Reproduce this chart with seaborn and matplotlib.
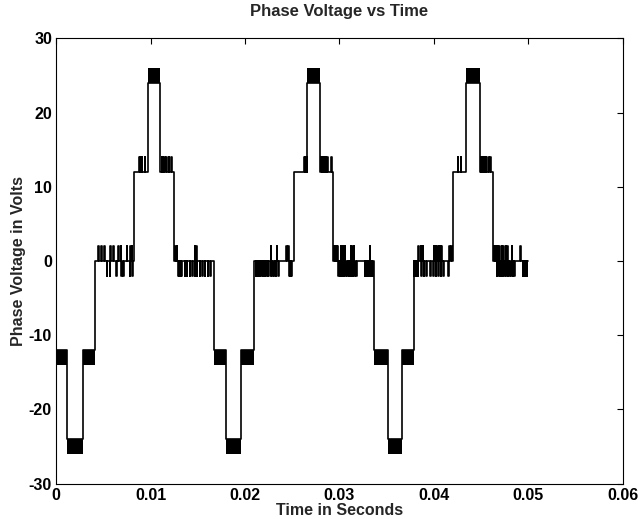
import numpy as np
import pandas as pd
import seaborn as sns
import matplotlib
matplotlib.use("Agg")
import matplotlib.pyplot as plt

# staircase levels of the phase voltage, times in ms
seg_t0 = [0.0, 1.2, 2.8, 4.1, 8.25, 9.75, 11.05, 12.52,
          16.7, 18.0, 19.6, 20.95, 25.15, 26.6, 27.95, 29.36,
          33.7, 35.1, 36.6, 37.85, 42.0, 43.45, 44.9, 46.3]
t_end = 50.0
seg_level = [-12, -24, -12, 0, 12, 24, 12, 0,
             -12, -24, -12, 0, 12, 24, 12, 0,
             -12, -24, -12, 0, 12, 24, 12, 0]
# dense PWM switching that shows up as a solid band (None = no band)
seg_band = [-14, -26, -14, None, None, 26, None, None,
            -14, -26, -14, None, None, 26, None, None,
            -14, -26, -14, None, None, 26, None, None]

# single switching pulses, +2 V above / -2 V below the level they sit on
pulse_up_ms = [4.5, 4.8, 5.1, 5.4, 5.75, 6.05, 6.6, 6.85, 7.15, 7.5, 7.85, 8.05,
               8.8, 8.95, 9.1, 9.4,
               11.2, 11.33, 11.5, 11.7, 11.95, 12.2,
               12.65, 12.8, 14.7, 14.87, 16.1,
               22.1, 22.3, 22.45, 22.75, 23.4, 24.4, 24.6,
               26.3, 26.4, 26.5,
               28.1, 28.2, 28.3, 28.45, 28.6, 28.75, 29.17,
               29.5, 29.6, 29.7, 29.8, 30.16, 30.4, 30.58, 31.19, 31.4, 31.54, 33.23,
               38.35, 38.65, 38.75, 38.85, 39.95, 40.1, 40.25, 40.4, 40.55, 40.7, 40.8,
               41.63, 41.89,
               42.58, 42.87,
               45.0, 45.1, 45.2, 45.3, 45.4, 45.52, 45.76, 46.02,
               46.45, 46.55, 46.65, 46.75, 46.85, 46.95, 47.18, 47.35, 47.64, 47.78,
               48.24, 49.2, 49.65]
pulse_dn_ms = [5.4, 5.7, 6.4, 6.9, 7.15, 7.8, 8.1,
               12.95, 13.05, 13.15, 13.25, 13.63, 13.88, 14.16, 14.45, 14.69, 14.94,
               15.22, 15.51, 15.75, 16.1, 16.36,
               21.15, 21.3, 21.45, 21.6, 21.75, 21.9, 22.1, 22.3, 22.45, 22.7, 22.9,
               23.1, 23.3, 23.55, 24.7, 24.8, 24.9, 25.0,
               29.9, 30.05, 30.2, 30.35, 30.5, 30.65, 30.85, 31.0, 31.15, 31.3, 31.45,
               31.6, 31.8, 32.7, 32.8, 32.9, 33.0, 33.1, 33.2, 33.3, 33.4, 33.5,
               37.95, 38.05, 38.15, 38.3, 38.71, 38.95, 39.24, 39.66, 39.94, 40.22,
               40.47, 40.72, 41.0, 41.53,
               46.7, 46.85, 47.0, 47.15, 47.3, 47.5, 47.7, 47.85, 48.0, 48.2, 48.4,
               48.55, 49.45, 49.55, 49.65, 49.75, 49.85]

x_ticks = [0, 0.01, 0.02, 0.03, 0.04, 0.05, 0.06]
x_labels = ["0", "0.01", "0.02", "0.03", "0.04", "0.05", "0.06"]
y_ticks = [-30, -20, -10, 0, 10, 20, 30]

W = 0.06  # pulse width (ms)
seg_t1 = seg_t0[1:] + [t_end]

t_pts, v_pts = [], []
for t0, t1, lev in zip(seg_t0, seg_t1, seg_level):
    ev = sorted([(c, lev + 2) for c in pulse_up_ms if t0 < c < t1] +
                [(c, lev - 2) for c in pulse_dn_ms if t0 < c < t1])
    t_pts.append(t0)
    v_pts.append(lev)
    last = t0
    for c, pv in ev:
        a = max(c - W / 2, last)
        b = min(c + W / 2, t1)
        if b <= a:
            continue
        t_pts += [a, b]
        v_pts += [pv, lev]
        last = b
t_pts.append(t_end)
v_pts.append(0)

df = pd.DataFrame({"t": np.array(t_pts) / 1000.0, "v": v_pts})

sns.set_style("white")
plt.rcParams["font.family"] = ["Liberation Sans", "DejaVu Sans"]
plt.rcParams["axes.unicode_minus"] = False

fig = plt.figure(figsize=(6.38, 5.19), dpi=100)
ax = fig.add_axes([0.088, 0.068, 0.888, 0.858])

sns.lineplot(data=df, x="t", y="v", ax=ax, color="black", lw=1.2,
             drawstyle="steps-post", estimator=None, sort=False)

for t0, t1, lev, band in zip(seg_t0, seg_t1, seg_level, seg_band):
    if band is None:
        continue
    ax.fill_between([t0 / 1000.0, t1 / 1000.0], lev, band, color="black", lw=0)

ax.set_xlim(0, 0.06)
ax.set_ylim(-30, 30)
ax.set_xticks(x_ticks)
ax.set_xticklabels(x_labels)
ax.set_yticks(y_ticks)
ax.tick_params(direction="in", top=True, right=True, length=4, width=0.8,
               labelsize=11.5, colors="black", pad=3)
for lbl in ax.get_xticklabels() + ax.get_yticklabels():
    lbl.set_fontweight("bold")
for s in ax.spines.values():
    s.set_color("black")
    s.set_linewidth(0.8)

ax.set_title("Phase Voltage vs Time", fontsize=12, fontweight="bold", pad=16)
ax.set_xlabel("Time in Seconds", fontsize=11.5, fontweight="bold", labelpad=0)
ax.set_ylabel("Phase Voltage in Volts", fontsize=11.5, fontweight="bold", labelpad=2)

fig.savefig("out.png", dpi=100)
